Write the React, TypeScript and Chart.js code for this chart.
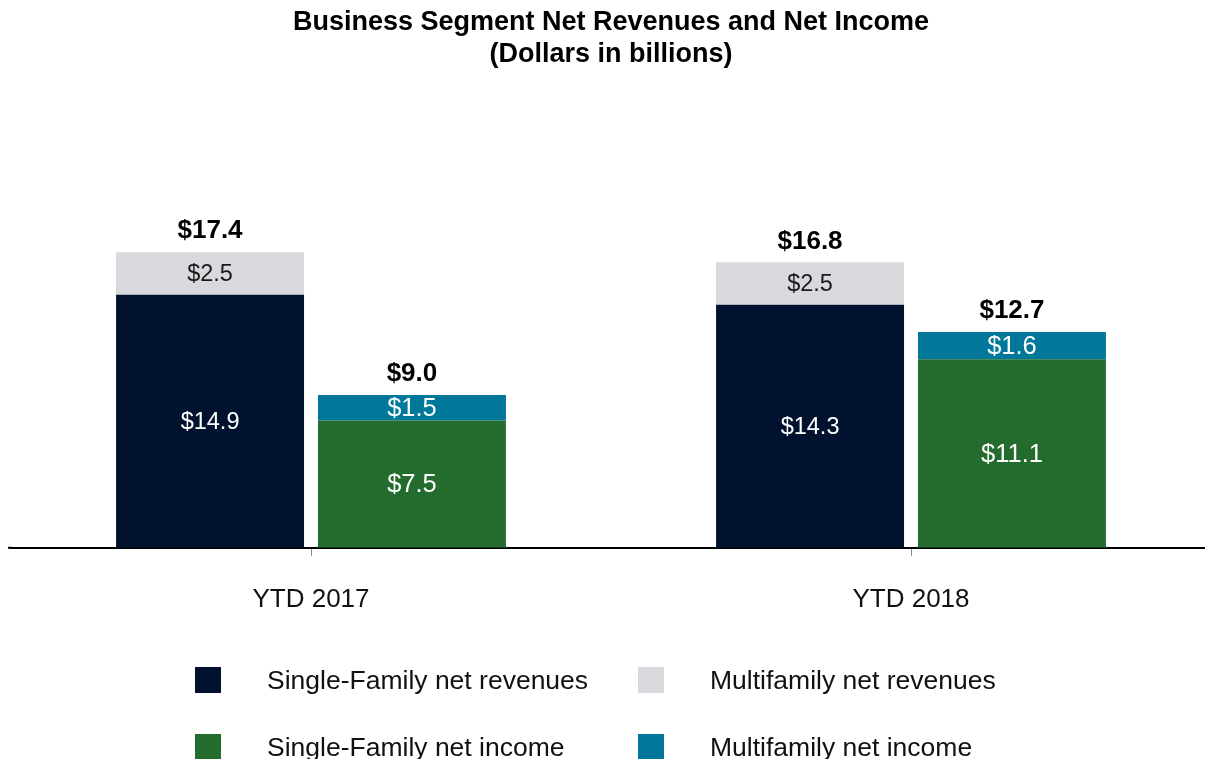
import React, { useEffect, useRef } from "react";
import { Chart, registerables } from "chart.js";

Chart.register(...registerables);

const categories = ["YTD 2017", "YTD 2018"];
const singleFamilyRevenues = [14.9, 14.3];
const multifamilyRevenues = [2.5, 2.5];
const singleFamilyIncome = [7.5, 11.1];
const multifamilyIncome = [1.5, 1.6];
const titleLines = ["Business Segment Net Revenues and Net Income", "(Dollars in billions)"];

const NAVY = "#01122E";
const GRAY = "#D9D8DC";
const GREEN = "#246C2E";
const TEAL = "#017799";
const FONT = "'Liberation Sans', Arial, sans-serif";

const fmt = (v: number) => "$" + v.toFixed(1);

const labelsPlugin = {
  id: "segLabels",
  afterDatasetsDraw(chart: any) {
    const ctx = chart.ctx;
    ctx.save();
    ctx.textAlign = "center";
    ctx.textBaseline = "middle";
    const tops: Record<string, { x: number; y: number; total: number }[]> = {};
    chart.data.datasets.forEach((ds: any, di: number) => {
      const meta = chart.getDatasetMeta(di);
      const isIncome = ds.stack === "inc";
      ctx.font = `${isIncome ? 25.5 : 23.5}px ${FONT}`;
      ctx.fillStyle = ds.backgroundColor === GRAY ? "#1a1a1a" : "#ffffff";
      meta.data.forEach((el: any, i: number) => {
        const v = ds.data[i];
        ctx.fillText(fmt(v), el.x, (el.y + el.base) / 2 + 1);
        const key = ds.stack + i;
        if (!tops[key]) tops[key] = [];
        tops[key].push({ x: el.x, y: el.y, total: v });
      });
    });
    ctx.font = `bold 26px ${FONT}`;
    ctx.fillStyle = "#000";
    Object.values(tops).forEach((arr) => {
      const total = arr.reduce((s, a) => s + a.total, 0);
      const top = Math.min(...arr.map((a) => a.y));
      ctx.fillText(fmt(total), arr[0].x, top - 21);
    });
    ctx.restore();
  },
};

const legendPlugin = {
  id: "gridLegend",
  afterDraw(chart: any) {
    const ctx = chart.ctx;
    const items = chart.data.datasets.map((d: any) => ({ label: d.label, color: d.backgroundColor }));
    const colX = [195, 638];
    const rowY = [667, 734];
    ctx.save();
    ctx.font = `26.5px ${FONT}`;
    ctx.textBaseline = "middle";
    ctx.textAlign = "left";
    items.forEach((it: any, k: number) => {
      const x = colX[k % 2];
      const y = rowY[Math.floor(k / 2)];
      ctx.fillStyle = it.color;
      ctx.fillRect(x, y, 26, 26);
      ctx.fillStyle = "#111";
      ctx.fillText(it.label, x + 72, y + 15);
    });
    ctx.restore();
  },
};

const axisExtendPlugin = {
  id: "axisExtend",
  afterDraw(chart: any) {
    const ctx = chart.ctx;
    const { left, bottom } = chart.chartArea;
    ctx.save();
    ctx.fillStyle = "#000";
    ctx.fillRect(8, bottom - 1, left - 8 + 1, 2);
    ctx.restore();
  },
};

export default function App() {
  const ref = useRef<HTMLCanvasElement | null>(null);
  useEffect(() => {
    if (!ref.current) return;
    const chart = new Chart(ref.current, {
      type: "bar",
      data: {
        labels: categories,
        datasets: [
          { label: "Single-Family net revenues", data: singleFamilyRevenues, backgroundColor: NAVY, stack: "rev" },
          { label: "Multifamily net revenues", data: multifamilyRevenues, backgroundColor: GRAY, stack: "rev" },
          { label: "Single-Family net income", data: singleFamilyIncome, backgroundColor: GREEN, stack: "inc" },
          { label: "Multifamily net income", data: multifamilyIncome, backgroundColor: TEAL, stack: "inc" },
        ],
      },
      options: {
        responsive: false,
        animation: false,
        devicePixelRatio: 1,
        categoryPercentage: 0.673,
        barPercentage: 0.931,
        layout: { padding: { top: 0, left: 11, right: 4, bottom: 116 } },
        plugins: {
          legend: { display: false },
          tooltip: { enabled: false },
          title: {
            display: true,
            text: titleLines,
            color: "#000",
            font: { family: FONT, size: 27, weight: "bold", lineHeight: 32 / 27 },
            padding: { top: 7, bottom: 137 },
          },
        },
        scales: {
          x: {
            stacked: true,
            grid: {
              display: true,
              offset: false,
              drawOnChartArea: false,
              drawTicks: true,
              tickLength: 8,
              color: "#8a8a8a",
              lineWidth: 1,
            },
            border: { display: true, color: "#000", width: 2 },
            ticks: { color: "#111", padding: 28, font: { family: FONT, size: 26 } },
          },
          y: { stacked: true, display: false, min: 0, max: 20 },
        },
      },
      plugins: [labelsPlugin, legendPlugin, axisExtendPlugin],
    });
    return () => chart.destroy();
  }, []);
  return (
    <div style={{ position: "absolute", left: 0, top: 0, width: 1205, height: 759, overflow: "hidden", background: "#fff" }}>
      <canvas ref={ref} width={1215} height={759} style={{ display: "block" }} />
    </div>
  );
}
